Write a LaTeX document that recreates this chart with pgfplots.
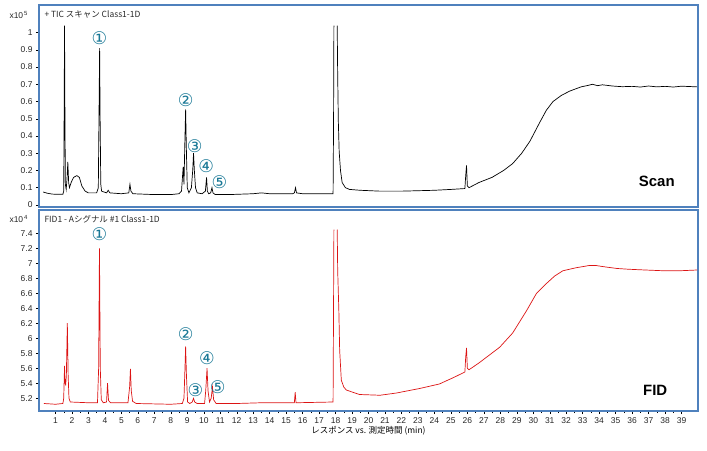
\documentclass[border=0pt]{standalone}
\usepackage{pgfplots}
\pgfplotsset{compat=1.18}
\usepackage{fontspec}
\setmainfont{Liberation Sans}
\newfontfamily\jp{Noto Sans CJK JP}
\newfontfamily\sym{DejaVu Sans}
\definecolor{frameblue}{RGB}{79,129,189}
\definecolor{circcol}{RGB}{25,120,150}
\definecolor{fidred}{RGB}{220,20,20}
\tikzset{circnum/.style={font=\sym\fontsize{17.5}{17.5}\selectfont, text=circcol, inner sep=0pt}}
\begin{document}
\begin{tikzpicture}
\path[use as bounding box] (0bp,0bp) rectangle (707bp,-451bp);
\pgfplotsset{
  panel/.style={
    scale only axis, width=659bp,
    xmin=0, xmax=40,
    axis line style={frameblue, line width=1.6bp},
    tick style={black, line width=0.4bp},
    tick align=outside,
    major tick length=3bp,
    minor tick length=2bp,
    ticklabel style={font=\fontsize{8.5}{9}\selectfont, text=black!85},
    /pgf/number format/assume math mode=true,
    ytick pos=left,
    clip=true,
    unbounded coords=jump,
  },
}
% top panel
\begin{axis}[panel, at={(39bp,-5bp)}, anchor=north west, height=202bp,
  ymin=-0.012, ymax=1.16,
  ytick={0,0.1,0.2,0.3,0.4,0.5,0.6,0.7,0.8,0.9,1},
  yticklabels={0,0.1,0.2,0.3,0.4,0.5,0.6,0.7,0.8,0.9,1},
  xtick=\empty]
\addplot[black, line width=0.7bp] coordinates {
(0.25,0.075)(0.5,0.068)(0.8,0.063)(1.0,0.062)(1.45,0.062)(1.5,0.08)(1.53,0.6)(1.55,1.04)(1.57,0.6)(1.6,0.12)(1.65,0.09)(1.7,0.15)(1.75,0.25)(1.8,0.13)(1.85,0.10)(1.95,0.13)(2.1,0.16)(2.3,0.17)(2.45,0.16)(2.6,0.11)(2.8,0.08)(3.0,0.07)(3.5,0.07)(3.6,0.1)(3.65,0.6)(3.68,0.91)(3.71,0.5)(3.75,0.12)(3.8,0.08)(4.1,0.07)(4.2,0.085)(4.3,0.07)(5.0,0.065)(5.45,0.07)(5.52,0.12)(5.58,0.08)(5.7,0.065)(7.0,0.06)(8.0,0.06)(8.5,0.065)(8.65,0.08)(8.75,0.22)(8.8,0.12)(8.85,0.35)(8.9,0.555)(8.95,0.3)(9.0,0.1)(9.1,0.07)(9.25,0.1)(9.33,0.2)(9.38,0.30)(9.43,0.2)(9.5,0.1)(9.6,0.07)(9.9,0.065)(10.1,0.08)(10.17,0.16)(10.22,0.08)(10.3,0.065)(10.42,0.07)(10.5,0.1)(10.56,0.07)(10.7,0.06)(11.5,0.06)(13.0,0.065)(13.5,0.07)(14.0,0.065)(15.4,0.065)(15.5,0.07)(15.57,0.1)(15.63,0.07)(16,0.065)(17.85,0.065)(17.88,0.5)(17.9,1.04)(18.0,nan)(18.1,1.04)(18.13,0.75)(18.17,0.48)(18.22,0.31)(18.3,0.2)(18.4,0.13)(18.6,0.10)(18.85,0.09)(19.5,0.085)(20.7,0.08)(22,0.08)(24,0.085)(25,0.09)(25.85,0.095)(25.9,0.17)(25.95,0.23)(26.0,0.11)(26.1,0.1)(26.7,0.13)(27.5,0.16)(28.2,0.2)(28.75,0.24)(29.3,0.3)(29.8,0.37)(30.4,0.48)(30.8,0.55)(31.2,0.6)(31.7,0.635)(32.2,0.66)(32.9,0.685)(33.3,0.693)(33.6,0.7)(33.9,0.692)(34.2,0.697)(34.8,0.69)(35.4,0.686)(36,0.688)(36.5,0.684)(37,0.69)(37.5,0.685)(38,0.688)(38.5,0.684)(39,0.689)(39.95,0.685)
};
\node[circnum] at (axis cs:3.67,0.97) {①};
\node[circnum] at (axis cs:8.9,0.61) {②};
\node[circnum] at (axis cs:9.45,0.34) {③};
\node[circnum] at (axis cs:10.15,0.225) {④};
\node[circnum] at (axis cs:10.95,0.135) {⑤};
\node[font=\bfseries\fontsize{15}{15}\selectfont] at (axis cs:37.5,0.135) {Scan};
\end{axis}
% bottom panel
\begin{axis}[panel, at={(39bp,-210bp)}, anchor=north west, height=201bp,
  ymin=5.03, ymax=7.71,
  ytick={5.2,5.4,5.6,5.8,6,6.2,6.4,6.6,6.8,7,7.2,7.4},
  yticklabels={5.2,5.4,5.6,5.8,6,6.2,6.4,6.6,6.8,7,7.2,7.4},
  xtick={1,2,...,39},
  minor x tick num=1,
  xtick pos=bottom,
  xlabel={\jp\fontsize{8.5}{9}\selectfont レスポンス vs. 測定時間 (min)},
  xlabel style={yshift=4bp}]
\addplot[fidred, line width=0.7bp] coordinates {
(0.3,5.13)(1.0,5.12)(1.45,5.13)(1.5,5.2)(1.55,5.63)(1.58,5.4)(1.62,5.38)(1.66,5.5)(1.72,6.2)(1.77,5.5)(1.82,5.2)(1.9,5.15)(3.0,5.14)(3.55,5.14)(3.62,5.6)(3.67,7.2)(3.72,5.6)(3.78,5.18)(3.9,5.14)(4.1,5.15)(4.16,5.4)(4.22,5.17)(4.35,5.14)(5.4,5.14)(5.5,5.35)(5.55,5.59)(5.6,5.3)(5.68,5.16)(5.9,5.13)(8.0,5.12)(8.7,5.13)(8.8,5.2)(8.86,5.6)(8.9,5.89)(8.95,5.5)(9.02,5.15)(9.15,5.13)(9.3,5.15)(9.38,5.2)(9.45,5.15)(9.6,5.13)(10.05,5.13)(10.12,5.3)(10.2,5.6)(10.26,5.3)(10.35,5.15)(10.45,5.2)(10.53,5.35)(10.6,5.18)(10.75,5.13)(12,5.13)(13.5,5.14)(15.5,5.14)(15.55,5.28)(15.6,5.14)(17.85,5.15)(17.88,6.5)(17.9,7.45)(18.0,nan)(18.1,7.45)(18.13,6.9)(18.2,6.37)(18.25,5.84)(18.35,5.44)(18.5,5.35)(18.65,5.31)(19.45,5.25)(20.7,5.24)(21.7,5.27)(23.1,5.33)(24.3,5.39)(25.2,5.48)(25.85,5.55)(25.9,5.75)(25.95,5.87)(26.0,5.6)(26.1,5.58)(26.7,5.67)(27.3,5.77)(27.96,5.88)(28.75,6.07)(29.6,6.37)(30.2,6.6)(30.8,6.73)(31.3,6.83)(31.8,6.9)(32.6,6.94)(33.4,6.97)(33.8,6.97)(34.4,6.95)(35.1,6.93)(35.8,6.92)(36.8,6.91)(37.9,6.9)(38.9,6.9)(39.95,6.91)
};
\node[circnum] at (axis cs:3.67,7.39) {①};
\node[circnum] at (axis cs:8.9,6.05) {②};
\node[circnum] at (axis cs:9.5,5.31) {③};
\node[circnum] at (axis cs:10.2,5.73) {④};
\node[circnum] at (axis cs:10.85,5.35) {⑤};
\node[font=\bfseries\fontsize{15}{15}\selectfont] at (axis cs:37.4,5.31) {FID};
\end{axis}
% titles and multipliers
\node[anchor=west, font=\jp\fontsize{8.5}{9}\selectfont, text=black!85] at (41bp,-15bp) {+ TIC スキャン Class1-1D};
\node[anchor=west, font=\jp\fontsize{8.5}{9}\selectfont, text=black!85] at (41bp,-219bp) {FID1 - Aシグナル \#1 Class1-1D};
\node[anchor=west, font=\fontsize{8.5}{9}\selectfont, text=black!85] at (6bp,-15bp) {x10\textsuperscript{\,5}};
\node[anchor=west, font=\fontsize{8.5}{9}\selectfont, text=black!85] at (6bp,-219bp) {x10\textsuperscript{\,4}};
\end{tikzpicture}
\end{document}
